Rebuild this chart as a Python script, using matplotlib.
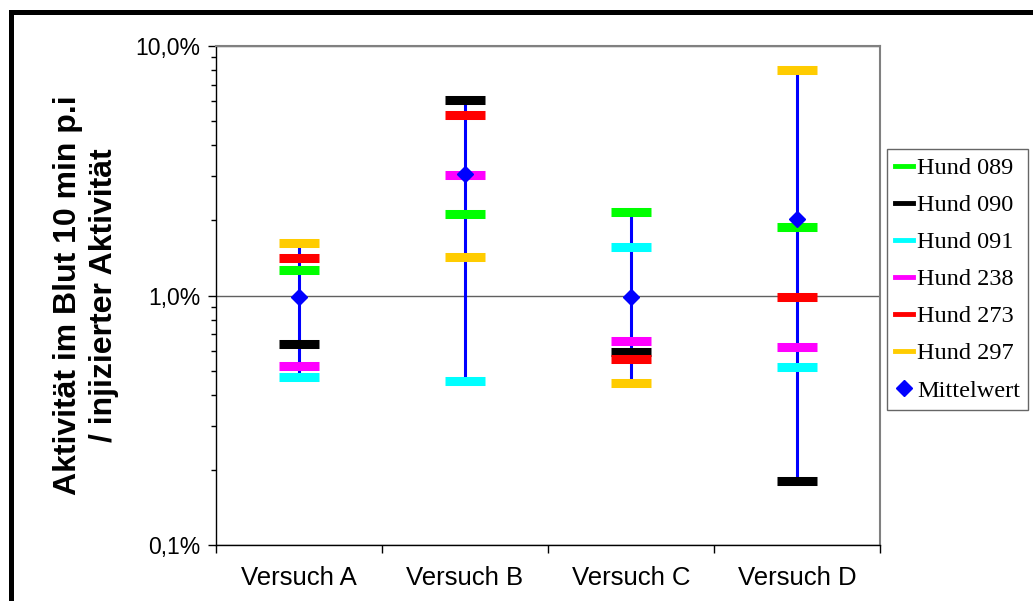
import numpy as np
import matplotlib
matplotlib.use("Agg")
import matplotlib.pyplot as plt
from matplotlib.lines import Line2D
from matplotlib.patches import Rectangle
from matplotlib.ticker import FixedLocator, NullFormatter, FixedFormatter, LogLocator

# Werte in % (Aktivitaet im Blut 10 min p.i. / injizierte Aktivitaet)
categories = ["Versuch A", "Versuch B", "Versuch C", "Versuch D"]
hund_089 = [1.27, 2.13, 2.17, 1.89]
hund_090 = [0.637, 6.10, 0.596, 0.181]
hund_091 = [0.473, 0.456, 1.56, 0.515]
hund_238 = [0.524, 3.05, 0.660, 0.624]
hund_273 = [1.41, 5.27, 0.554, 0.99]
hund_297 = [1.63, 1.43, 0.444, 8.05]
mittelwert = [0.99, 3.07, 0.99, 2.03]

dogs = [("Hund 089", hund_089, "#00ff00"),
        ("Hund 090", hund_090, "#000000"),
        ("Hund 091", hund_091, "#00ffff"),
        ("Hund 238", hund_238, "#ff00ff"),
        ("Hund 273", hund_273, "#ff0000"),
        ("Hund 297", hund_297, "#ffcc00")]

W, H = 1033, 601
fig = plt.figure(figsize=(W / 100, H / 100), dpi=100)
ax = fig.add_axes([216 / W, 1 - 545 / H, (880 - 216) / W, (545 - 46) / H])

x = np.arange(len(categories))
all_vals = np.array([d[1] for d in dogs])
lo = all_vals.min(axis=0)
hi = all_vals.max(axis=0)

# Spannweite (min-max) als blaue Linie
ax.vlines(x, lo, hi, color="#0000ff", lw=2.2, zorder=3)

for name, vals, col in dogs:
    ax.plot(x, vals, ls="none", marker="_", ms=28.8, mew=6.5, color=col, zorder=4)

ax.plot(x, mittelwert, ls="none", marker="D", ms=8.5, color="#0000ff", zorder=5)

ax.set_yscale("log")
ax.set_ylim(0.1, 10)
ax.set_xlim(-0.5, len(categories) - 0.5)

ax.yaxis.set_major_locator(FixedLocator([0.1, 1, 10]))
ax.yaxis.set_major_formatter(FixedFormatter(["0,1%", "1,0%", "10,0%"]))
ax.yaxis.set_minor_locator(LogLocator(base=10, subs=np.arange(2, 10)))
ax.yaxis.set_minor_formatter(NullFormatter())
ax.yaxis.grid(True, which="major", color="#606060", lw=1)
ax.set_axisbelow(True)

ax.xaxis.set_major_locator(FixedLocator(np.arange(-0.5, len(categories), 1.0)))
ax.xaxis.set_major_formatter(NullFormatter())
ax.xaxis.set_minor_locator(FixedLocator(x))
ax.xaxis.set_minor_formatter(FixedFormatter(categories))

ax.tick_params(axis="y", which="major", length=6, width=1, labelsize=16.5, pad=5)
ax.tick_params(axis="y", which="minor", length=3.5, width=1)
ax.tick_params(axis="x", which="major", length=6, width=1)
ax.tick_params(axis="x", which="minor", length=0, labelsize=18.5, pad=15)
for lab in ax.get_xticklabels(minor=True) + ax.get_yticklabels():
    lab.set_fontfamily("Liberation Sans")

for s in ["top", "right"]:
    ax.spines[s].set_color("#808080")
    ax.spines[s].set_linewidth(1.5)
for s in ["left", "bottom"]:
    ax.spines[s].set_color("#000000")
    ax.spines[s].set_linewidth(1)

ax.set_ylabel("Aktivität im Blut 10 min p.i\n/ injizierter Aktivität",
              fontsize=23, fontweight="bold", family="Liberation Sans",
              labelpad=12, linespacing=1.25)

handles = [Line2D([], [], color=col, lw=3.5) for _, _, col in dogs]
handles.append(Line2D([], [], ls="none", marker="D", ms=8.5, color="#0000ff"))
labels = [d[0] for d in dogs] + ["Mittelwert"]
leg = fig.legend(handles, labels, loc="upper left",
                 bbox_to_anchor=(887 / W, 1 - 149 / H), bbox_transform=fig.transFigure,
                 borderaxespad=0, fancybox=False, frameon=True, edgecolor="#404040",
                 prop={"family": "Liberation Serif", "size": 17.5},
                 handlelength=0.75, handletextpad=0.17, labelspacing=0.62,
                 borderpad=0.33)
leg.get_frame().set_linewidth(1)

# Rahmen um das Diagramm
fig.add_artist(Rectangle((10.5 / W, -0.2), 2, 1.2 - 11.5 / H, transform=fig.transFigure,
                         fill=False, ec="#000000", lw=3.6))

fig.savefig("out.png", dpi=100)
